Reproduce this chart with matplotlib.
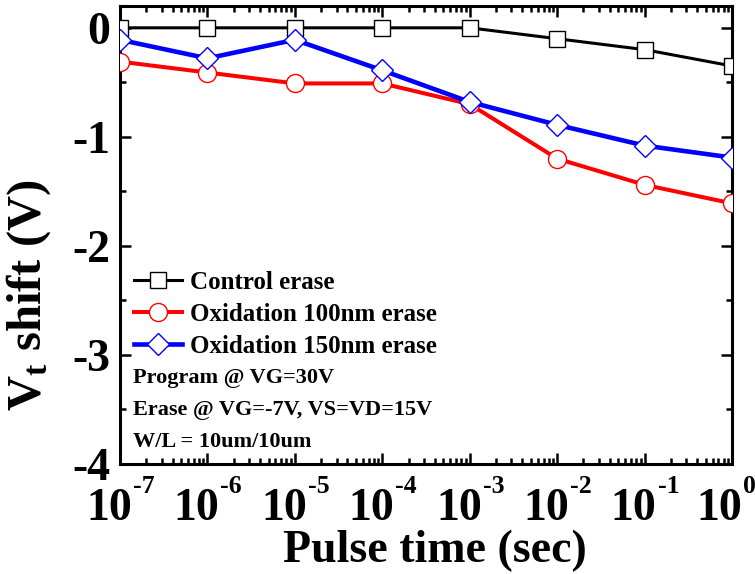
import math
import matplotlib
matplotlib.use("Agg")
import matplotlib.pyplot as plt
import matplotlib.transforms as mtransforms
from matplotlib.ticker import FixedLocator, FuncFormatter, LogLocator, NullFormatter, MultipleLocator

plt.rcParams["font.family"] = ["Liberation Serif", "DejaVu Serif"]
plt.rcParams["font.weight"] = "bold"
plt.rcParams["mathtext.fontset"] = "custom"
plt.rcParams["mathtext.rm"] = "Liberation Serif:bold"
plt.rcParams["mathtext.bf"] = "Liberation Serif:bold"
plt.rcParams["mathtext.it"] = "Liberation Serif:bold"

# Erase pulse widths (s) and threshold-voltage shifts (V)
pulse_time = [1e-7, 1e-6, 1e-5, 1e-4, 1e-3, 1e-2, 1e-1, 1e0]
control = [0.0, 0.0, 0.0, 0.0, 0.0, -0.10, -0.20, -0.35]
ox100 = [-0.31, -0.41, -0.51, -0.51, -0.70, -1.20, -1.44, -1.61]
ox150 = [-0.11, -0.28, -0.11, -0.39, -0.68, -0.89, -1.08, -1.19]
series_labels = ["Control erase", "Oxidation 100nm erase", "Oxidation 150nm erase"]
y_ticks = [0, -1, -2, -3, -4]
notes = ["Program @ VG=30V", "Erase @ VG=-7V, VS=VD=15V", "W/L = 10um/10um"]

W, H = 755, 574
fig = plt.figure(figsize=(W / 100, H / 100), dpi=100)
# axes box in pixel terms: left 120, right 732, top 6, bottom 464
ax = fig.add_axes([120 / W, 1 - 464 / H, 612 / W, 458 / H])

ax.plot(pulse_time, control, color="black", lw=2.2, marker="s", ms=11.5,
        mfc="white", mec="black", mew=1.0, label=series_labels[0], zorder=3)
ax.plot(pulse_time, ox100, color="red", lw=2.9, marker="o", ms=13,
        mfc="white", mec="red", mew=1.0, label=series_labels[1], zorder=3)
ax.plot(pulse_time, ox150, color="blue", lw=3.3, marker="D", ms=11.2,
        mfc="white", mec="blue", mew=1.0, label=series_labels[2], zorder=4)

ax.set_xscale("log")
ax.set_xlim(1e-7, 1e0)
ax.set_ylim(-4, 0.2)

ax.xaxis.set_major_locator(FixedLocator(pulse_time))
ax.xaxis.set_minor_locator(LogLocator(base=10, subs=range(2, 10)))
ax.xaxis.set_minor_formatter(NullFormatter())
ax.yaxis.set_major_locator(FixedLocator(y_ticks))
ax.yaxis.set_major_formatter(FuncFormatter(lambda v, p: "%d" % v))
ax.yaxis.set_minor_locator(MultipleLocator(0.5))

ax.tick_params(which="both", direction="in", top=True, right=True, width=1.8)
ax.tick_params(which="major", length=8)
ax.tick_params(which="minor", length=4)
ax.tick_params(axis="x", labelbottom=False)
ax.tick_params(axis="y", which="major", labelsize=33, pad=7)
for lab in ax.get_yticklabels():
    lab.set_fontweight("bold")
for sp in ax.spines.values():
    sp.set_linewidth(2.2)

# Decade labels written as "10" with a hyphen-style superscript exponent
base_tf = mtransforms.blended_transform_factory(ax.transData, ax.transAxes)
for t in pulse_time:
    exp = "%d" % round(math.log10(t))
    sup_w = 10 * len(exp)
    x_px = ax.transData.transform((t, 0))[0]
    dx = 12 - max(0, x_px + 13 + sup_w - 753)
    tf10 = mtransforms.offset_copy(base_tf, fig=fig, x=dx, y=-56, units="dots")
    ax.text(t, 0, "10", transform=tf10, fontsize=33, fontweight="bold",
            ha="right", va="baseline", clip_on=False)
    tfs = mtransforms.offset_copy(base_tf, fig=fig, x=dx + 1, y=-29, units="dots")
    ax.text(t, 0, exp, transform=tfs, fontsize=18.5, fontweight="bold",
            ha="left", va="baseline", clip_on=False)

fig.text(435 / W, 1 - 562 / H, "Pulse time (sec)", fontsize=33, fontweight="bold",
         ha="center", va="baseline")
fig.text(29 / W, 1 - 295 / H, r"V$_\mathrm{t}$ shift (V)", fontsize=35,
         fontweight="bold", rotation=90, ha="center", va="center")

leg = ax.legend(loc="upper left", bbox_to_anchor=(134 / W, 1 - 271 / H),
                bbox_transform=fig.transFigure, frameon=False,
                prop={"family": "Liberation Serif", "weight": "bold", "size": 18},
                handlelength=1.9, handletextpad=0.35, labelspacing=0.36,
                borderaxespad=0.0, borderpad=0.0)

for i, note in enumerate(notes):
    fig.text(133 / W, 1 - (383 + 32 * i) / H, note, fontsize=16,
             fontweight="bold", va="baseline", ha="left")

fig.savefig("out.png", dpi=100)
